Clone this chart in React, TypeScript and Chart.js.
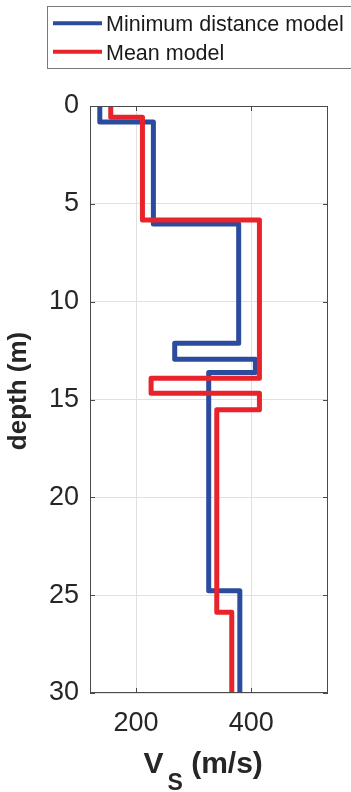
import React, { useEffect, useRef } from "react";
import { Chart, registerables } from "chart.js";

Chart.register(...registerables);

// ---- data ----
const depthTicks = [0, 5, 10, 15, 20, 25, 30];
const vsTicks = [200, 400];
const minDistVs = [137, 230, 378, 267, 407, 326, 380];
const minDistBottom = [0.82, 6.03, 12.13, 12.94, 13.62, 24.77, 30];
const meanVs = [156, 211, 414, 226, 414, 340, 366];
const meanBottom = [0.57, 5.83, 13.92, 14.68, 15.53, 25.87, 30];
const legendLabels = ["Minimum distance model", "Mean model"];
const xMin = 120;
const xMax = 533;
const yMin = 0;
const yMax = 30;

const BLUE = "#2a4b9e";
const RED = "#e8232a";
const FONT = "'Liberation Sans', Arial, Helvetica, sans-serif";

function steps(vs: number[], bottoms: number[]) {
  const pts: { x: number; y: number }[] = [];
  let top = 0;
  for (let i = 0; i < vs.length; i++) {
    pts.push({ x: vs[i], y: top });
    pts.push({ x: vs[i], y: bottoms[i] });
    top = bottoms[i];
  }
  return pts;
}

const decorPlugin = {
  id: "decor",
  afterDatasetsDraw(chart: any) {
    const ctx = chart.ctx as CanvasRenderingContext2D;
    const { left, right, top, bottom } = chart.chartArea;
    const xs = chart.scales.x;
    const ys = chart.scales.y;
    ctx.save();
    // box
    ctx.strokeStyle = "#4a4a4a";
    ctx.lineWidth = 1;
    ctx.strokeRect(left + 0.5, top + 0.5, right - left - 1, bottom - top - 1);
    // inner ticks
    const tl = 5;
    ctx.beginPath();
    vsTicks.forEach((v) => {
      const px = Math.round(xs.getPixelForValue(v)) + 0.5;
      ctx.moveTo(px, bottom);
      ctx.lineTo(px, bottom - tl);
      ctx.moveTo(px, top);
      ctx.lineTo(px, top + tl);
    });
    depthTicks.forEach((d) => {
      const py = Math.round(ys.getPixelForValue(d)) + 0.5;
      ctx.moveTo(left, py);
      ctx.lineTo(left + tl, py);
      ctx.moveTo(right, py);
      ctx.lineTo(right - tl, py);
    });
    ctx.stroke();

    // x title: V_S (m/s)
    const cx = (left + right) / 2;
    const x0 = cx - 65.5;
    ctx.fillStyle = "#262626";
    ctx.textBaseline = "alphabetic";
    ctx.textAlign = "left";
    ctx.font = `bold 30px ${FONT}`;
    ctx.fillText("V", x0, 773);
    const wV = ctx.measureText("V").width;
    ctx.font = `bold 23px ${FONT}`;
    ctx.fillText("S", x0 + wV + 4, 790);
    const wS = ctx.measureText("S").width;
    ctx.font = `bold 30px ${FONT}`;
    ctx.fillText(" (m/s)", x0 + wV + 4 + wS, 773);

    // y title
    ctx.save();
    ctx.translate(19, 391);
    ctx.rotate(-Math.PI / 2);
    ctx.textAlign = "center";
    ctx.textBaseline = "middle";
    ctx.font = `bold 26px ${FONT}`;
    ctx.fillText("depth (m)", 0, 0);
    ctx.restore();

    // legend
    ctx.fillStyle = "#ffffff";
    ctx.fillRect(48, 7, 320, 62);
    ctx.strokeStyle = "#7a7a7a";
    ctx.lineWidth = 1;
    ctx.strokeRect(47.5, 6.5, 320, 62);
    const colors = [BLUE, RED];
    const ly = [23.3, 51.7];
    ctx.font = `21.5px ${FONT}`;
    ctx.textAlign = "left";
    ctx.textBaseline = "alphabetic";
    legendLabels.forEach((lab, i) => {
      ctx.strokeStyle = colors[i];
      ctx.lineWidth = 4;
      ctx.beginPath();
      ctx.moveTo(53, ly[i]);
      ctx.lineTo(102, ly[i]);
      ctx.stroke();
      ctx.fillStyle = "#1a1a1a";
      ctx.fillText(lab, 106, ly[i] + 8);
    });
    ctx.restore();
  },
};

export default function App() {
  const ref = useRef<HTMLCanvasElement | null>(null);
  useEffect(() => {
    if (!ref.current) return;
    const chart = new Chart(ref.current, {
      type: "scatter",
      data: {
        datasets: [
          {
            label: legendLabels[0],
            data: steps(minDistVs, minDistBottom),
            showLine: true,
            borderColor: BLUE,
            backgroundColor: BLUE,
            borderWidth: 5,
            pointRadius: 0,
            borderJoinStyle: "round",
            borderCapStyle: "butt",
            order: 1,
          },
          {
            label: legendLabels[1],
            data: steps(meanVs, meanBottom),
            showLine: true,
            borderColor: RED,
            backgroundColor: RED,
            borderWidth: 5,
            pointRadius: 0,
            borderJoinStyle: "round",
            borderCapStyle: "butt",
            order: 0,
          },
        ],
      },
      options: {
        responsive: false,
        animation: false,
        devicePixelRatio: 1,
        layout: { padding: { top: 106, right: 23, left: 0, bottom: 0 } },
        plugins: { legend: { display: false }, tooltip: { enabled: false } },
        scales: {
          x: {
            type: "linear",
            min: xMin,
            max: xMax,
            afterBuildTicks: (s: any) => {
              s.ticks = vsTicks.map((v) => ({ value: v }));
            },
            afterFit: (s: any) => {
              s.height = 99;
            },
            grid: { color: "#e0e0e0", drawTicks: false, lineWidth: 1 },
            border: { display: false },
            ticks: {
              color: "#262626",
              font: { family: FONT, size: 27 },
              padding: 14,
              maxRotation: 0,
            },
          },
          y: {
            type: "linear",
            reverse: true,
            min: yMin,
            max: yMax,
            afterBuildTicks: (s: any) => {
              s.ticks = depthTicks.map((v) => ({ value: v }));
            },
            afterFit: (s: any) => {
              s.width = 90;
            },
            grid: { color: "#e0e0e0", drawTicks: false, lineWidth: 1 },
            border: { display: false },
            ticks: {
              color: "#262626",
              font: { family: FONT, size: 27 },
              padding: 11,
            },
          },
        },
      },
      plugins: [decorPlugin],
    } as any);
    return () => chart.destroy();
  }, []);
  return (
    <div style={{ position: "fixed", left: 0, top: 0, width: 351, height: 792, background: "#fff" }}>
      <canvas ref={ref} width={351} height={792} style={{ width: 351, height: 792, display: "block" }} />
    </div>
  );
}
